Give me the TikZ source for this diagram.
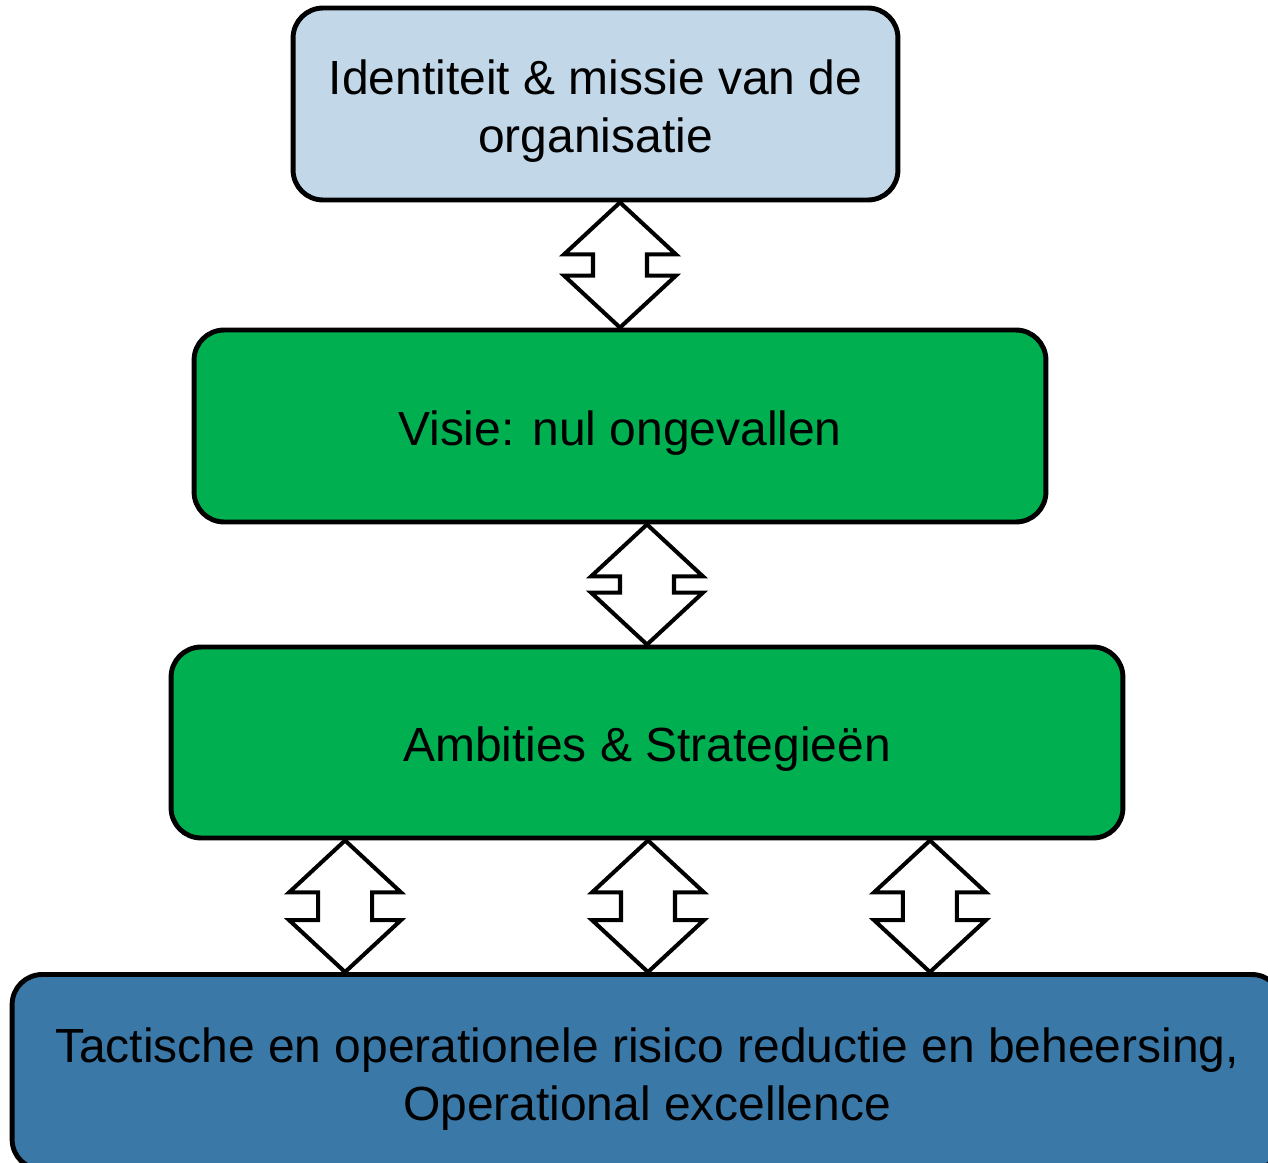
\documentclass[tikz,border=0pt]{standalone}
\usepackage{fontspec}
\setmainfont{Liberation Sans}
\usetikzlibrary{positioning}
\usetikzlibrary{calc}
\definecolor{topblue}{RGB}{194,216,232}
\definecolor{visiegreen}{RGB}{0,176,80}
\definecolor{baseblue}{RGB}{58,120,168}
\newcommand{\liftline}{\rule{0pt}{1.02em}}
\tikzset{
	block/.style={
		rectangle,
		align=center,
		line width=2.8pt,
		rounded corners=.6cm,
		inner sep=0pt,
		font=\fontsize{27.3}{32.8}\selectfont
	},
	dblarrow/.style={
		draw,
		fill=white,
		line width=2.3pt,
		to path={let \p1=(\tikztostart), \p2=(\tikztotarget) in
			-- (\x1+1.12cm,\y1-1.04cm) -- (\x1+.54cm,\y1-1.04cm)
			-- (\x1+.54cm,\y2+1.04cm) -- (\x1+1.12cm,\y2+1.04cm)
			-- (\x1,\y2)
			-- (\x1-1.12cm,\y2+1.04cm) -- (\x1-.54cm,\y2+1.04cm)
			-- (\x1-.54cm,\y1-1.04cm) -- (\x1-1.12cm,\y1-1.04cm)
			-- cycle}
	}
}

\begin{document}
\begin{tikzpicture}[x=0.02cm, y=-0.02cm]
		\useasboundingbox (0,0) rectangle (1268,1163);
		\clip (0,0) rectangle (1268,1163);
		\draw node[draw, block, fill=topblue, minimum width=12.1cm, minimum height=3.84cm](Top) at (595.5,104){\liftline Identiteit \& missie van de\\organisatie};
		\draw node[draw, block, fill=visiegreen, minimum width=17.04cm, minimum height=3.84cm](Visie) at (620,426){\liftline Visie: nul ongevallen};
		\draw node[draw, block, fill=visiegreen, minimum width=19.04cm, minimum height=3.82cm](Ambities) at (647,742.5){\liftline Ambities \& Strategieën};
		\draw node[draw, block, fill=baseblue, minimum width=25.4cm, minimum height=3.9cm](Tactiek) at (647,1072){\liftline Tactische en operationele risico reductie en beheersing,\\Operational excellence};
		
		\draw[dblarrow] (Top.south -| Visie.north) to (Visie.north);
		\draw[dblarrow] (Visie.south -| Ambities.north) to (Ambities.north);
		\draw[dblarrow] ([xshift=-6.04cm]Ambities.south) to ([xshift=-6.04cm]Tactiek.north);
		\draw[dblarrow] ([xshift=.02cm]Ambities.south) to ([xshift=.02cm]Tactiek.north);
		\draw[dblarrow] ([xshift=5.66cm]Ambities.south) to ([xshift=5.66cm]Tactiek.north);
	\end{tikzpicture}
\end{document}
